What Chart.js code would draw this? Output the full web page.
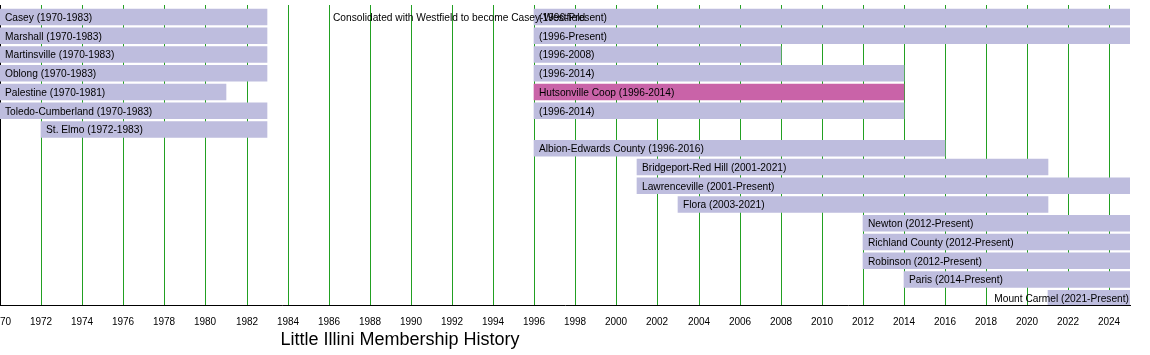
<!DOCTYPE html>
<html>
<head>
<meta charset="utf-8">
<script src="https://cdn.jsdelivr.net/npm/chart.js@4/dist/chart.umd.min.js"></script>
<style>
  html, body { margin: 0; padding: 0; background: #ffffff; }
  #wrap { position: relative; width: 1150px; height: 355px; }
</style>
</head>
<body>
<div id="wrap"><canvas id="c" width="1150" height="355"></canvas></div>
<script>
// ---- Data ----
const chartTitle = 'Little Illini Membership History';

const earlyLabels = ['Casey (1970-1983)', 'Marshall (1970-1983)', 'Martinsville (1970-1983)', 'Oblong (1970-1983)',
  'Palestine (1970-1981)', 'Toledo-Cumberland (1970-1983)', 'St. Elmo (1972-1983)'];
const earlyStart = [1970, 1970, 1970, 1970, 1970, 1970, 1972];
const earlyEnd   = [1983, 1983, 1983, 1983, 1981, 1983, 1983];
const earlyRow   = [0, 1, 2, 3, 4, 5, 6];

const laterLabels = ['(1996-Present)', '(1996-Present)', '(1996-2008)', '(1996-2014)', '(1996-2014)',
  'Albion-Edwards County (1996-2016)', 'Bridgeport-Red Hill (2001-2021)', 'Lawrenceville (2001-Present)',
  'Flora (2003-2021)', 'Newton (2012-Present)', 'Richland County (2012-Present)', 'Robinson (2012-Present)',
  'Paris (2014-Present)', 'Mount Carmel (2021-Present)'];
const laterStart = [1996, 1996, 1996, 1996, 1996, 1996, 2001, 2001, 2003, 2012, 2012, 2012, 2014, 2021];
const laterEnd   = [2025, 2025, 2008, 2014, 2014, 2016, 2021, 2025, 2021, 2025, 2025, 2025, 2025, 2025];
const laterRow   = [0, 1, 2, 3, 5, 7, 8, 9, 10, 11, 12, 13, 14, 15];

const coopLabels = ['Hutsonville Coop (1996-2014)'];
const coopStart  = [1996];
const coopEnd    = [2014];
const coopRow    = [4];

const noteText = 'Consolidated with Westfield to become Casey-Westfield';
const noteYear = 1986.2;
const noteRow  = 0;

const yearMin = 1970, yearMax = 2025, yearStep = 2;
const rowMin = -0.64, rowMax = 15.36;

// ---- Styles ----
const lavender = '#BEBDDE';
const magenta  = '#C963A8';
const gridGreen = '#22A022';
const FONT = '"Liberation Sans", Arial, Helvetica, sans-serif';

function mk(starts, ends, rows) {
  return starts.map((s, i) => ({ x: [s, ends[i]], y: rows[i] }));
}

const datasets = [
  { label: 'early', data: mk(earlyStart, earlyEnd, earlyRow), texts: earlyLabels, backgroundColor: lavender },
  { label: 'later', data: mk(laterStart, laterEnd, laterRow), texts: laterLabels, backgroundColor: lavender },
  { label: 'coop',  data: mk(coopStart, coopEnd, coopRow), texts: coopLabels, backgroundColor: magenta }
];

const labelPlugin = {
  id: 'barLabels',
  afterDatasetsDraw(chart) {
    const ctx = chart.ctx;
    const area = chart.chartArea;
    ctx.save();
    ctx.font = '10.2px ' + FONT;
    ctx.fillStyle = '#000';
    ctx.textBaseline = 'middle';
    ctx.textAlign = 'left';
    chart.data.datasets.forEach((ds, di) => {
      const meta = chart.getDatasetMeta(di);
      meta.data.forEach((el, i) => {
        const t = ds.texts[i];
        const left = Math.min(el.x, el.base);
        const w = ctx.measureText(t).width;
        let x = left + 5;
        if (x + w > area.right - 1) x = area.right - 1 - w;
        ctx.fillText(t, x, el.y + 1);
      });
    });
    const xs = chart.scales.x, ys = chart.scales.y;
    ctx.fillText(noteText, xs.getPixelForValue(noteYear), ys.getPixelForValue(noteRow) + 1);
    // title
    ctx.font = '18px ' + FONT;
    ctx.textAlign = 'center';
    ctx.fillText(chartTitle, 400, 340);
    ctx.restore();
  }
};

new Chart(document.getElementById('c'), {
  type: 'bar',
  data: { datasets },
  plugins: [labelPlugin],
  options: {
    indexAxis: 'y',
    responsive: false,
    animation: false,
    events: [],
    layout: { padding: { left: 0, right: 20, top: 5, bottom: 20 } },
    plugins: { legend: { display: false }, tooltip: { enabled: false }, title: { display: false } },
    datasets: { bar: { grouped: false, barThickness: 16, borderWidth: 0 } },
    scales: {
      x: {
        type: 'linear',
        position: 'bottom',
        min: yearMin,
        max: yearMax,
        alignToPixels: true,
        grid: {
          drawTicks: false,
          color: (c) => (c.tick && c.tick.value === yearMin) ? '#000' : gridGreen,
          lineWidth: (c) => (c.tick && c.tick.value === yearMin) ? 2 : 1
        },
        border: { display: true, color: '#000', width: 1 },
        ticks: {
          stepSize: yearStep,
          includeBounds: false,
          autoSkip: false,
          maxRotation: 0,
          padding: 11,
          color: '#000',
          font: { family: FONT, size: 10 },
          callback: (v) => String(v)
        },
        afterFit(scale) {
          scale.paddingLeft = 0;
          scale.paddingRight = 0;
          scale.height = 30;
        }
      },
      y: {
        type: 'linear',
        reverse: true,
        offset: false,
        grace: 0,
        min: rowMin,
        max: rowMax,
        display: false,
        grid: { offset: false }
      }
    }
  }
});
</script>
</body>
</html>
